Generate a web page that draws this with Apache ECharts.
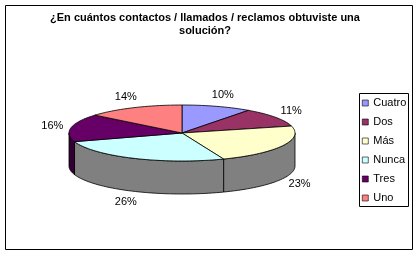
<!DOCTYPE html>
<html><head><meta charset="utf-8">
<script src="https://cdn.jsdelivr.net/npm/echarts@6/dist/echarts.min.js"></script>
<style>html,body{margin:0;padding:0;background:#fff}#c{width:420px;height:256px}</style>
</head><body><div id="c"></div>
<script>
const categories = ['Cuatro', 'Dos', 'Más', 'Nunca', 'Tres', 'Uno'];
const values = [10, 11, 23, 26, 16, 14];
const titleText = '¿En cuántos contactos / llamados / reclamos obtuviste una\nsolución?';

const palette = ['#9999FF', '#993366', '#FFFFCC', '#CCFFFF', '#660066', '#FF8080'];
const sidePalette = ['#4d4d80', '#4d1a33', '#808080', '#808080', '#330033', '#804040'];

const CX = 182, CY = 133, RX = 113, RY = 28, DEPTH = 33;
const LRX = 132, LRY = 40;
const total = values.reduce((a, b) => a + b, 0);
const starts = [];
let acc = 0;
values.forEach(v => { starts.push(acc / total * 360); acc += v; });

function pt(deg, rx, ry, dy) {
  const t = deg * Math.PI / 180;
  return [CX + rx * Math.sin(t), CY - ry * Math.cos(t) + (dy || 0)];
}
function arc(a, b, dy) {
  const pts = [];
  const n = Math.max(2, Math.ceil((b - a) / 2));
  for (let k = 0; k <= n; k++) pts.push(pt(a + (b - a) * k / n, RX, RY, dy));
  return pts;
}

const seriesData = values.map((v, i) => ({ name: categories[i], value: [i, v] }));

function renderWall(params, api) {
  const i = params.dataIndex;
  const a0 = starts[i], b0 = starts[i] + api.value(1) / total * 360;
  const a = Math.max(a0, 90), b = Math.min(b0, 270);
  if (b <= a) return null;
  const top = arc(a, b, 0);
  const bot = arc(a, b, DEPTH).reverse();
  return {
    type: 'polygon',
    shape: { points: top.concat(bot) },
    style: { fill: sidePalette[i], stroke: '#000', lineWidth: 0.8 }
  };
}

function renderTop(params, api) {
  const i = params.dataIndex;
  const v = api.value(1);
  const a = starts[i], b = starts[i] + v / total * 360;
  const pts = [[CX, CY]].concat(arc(a, b, 0));
  const mid = (a + b) / 2;
  const front = Math.cos(mid * Math.PI / 180) < 0;
  const lp = pt(mid, LRX, LRY, front ? DEPTH : 0);
  return {
    type: 'group',
    children: [
      { type: 'polygon', shape: { points: pts },
        style: { fill: palette[i], stroke: '#000', lineWidth: 0.8 } },
      { type: 'text', x: lp[0], y: lp[1],
        style: { text: Math.round(v / total * 100) + '%', fill: '#000',
          font: '11px "Liberation Sans", Arial, sans-serif',
          align: 'center', verticalAlign: 'middle' } }
    ]
  };
}

const chart = echarts.init(document.getElementById('c'), null, { renderer: 'canvas' });
chart.setOption({
  animation: false,
  backgroundColor: '#fff',
  color: palette,
  title: {
    text: titleText, left: 205, top: 11, textAlign: 'center', padding: 0,
    textStyle: { fontFamily: '"Liberation Sans", Arial, sans-serif', fontSize: 11,
      fontWeight: 'bold', color: '#000', lineHeight: 13 }
  },
  legend: {
    orient: 'vertical', left: 362, top: 97, padding: 0,
    itemWidth: 6, itemHeight: 6, itemGap: 7, itemTextGap: 3, icon: 'rect',
    itemStyle: { borderColor: '#000', borderWidth: 0.6 },
    textStyle: { fontFamily: '"Liberation Sans", Arial, sans-serif', fontSize: 11,
      color: '#000', lineHeight: 12 },
    data: categories,
    selectedMode: false
  },
  graphic: [
    { type: 'rect', shape: { x: 5.5, y: 5.5, width: 407, height: 244 },
      style: { fill: null, stroke: '#000', lineWidth: 1 }, z: 100 },
    { type: 'rect', shape: { x: 359.5, y: 93.5, width: 49, height: 113 },
      style: { fill: null, stroke: '#000', lineWidth: 1 }, z: 100 }
  ],
  series: [
    { type: 'pie', radius: [0, 0], center: [-100, -100], silent: true,
      label: { show: false }, labelLine: { show: false },
      data: values.map((v, i) => ({ name: categories[i], value: v, itemStyle: { color: palette[i] } })) },
    { type: 'custom', coordinateSystem: 'none', renderItem: renderWall, data: seriesData, z: 1, silent: true },
    { type: 'custom', coordinateSystem: 'none', renderItem: renderTop, data: seriesData, z: 2, silent: true }
  ]
});
</script></body></html>
